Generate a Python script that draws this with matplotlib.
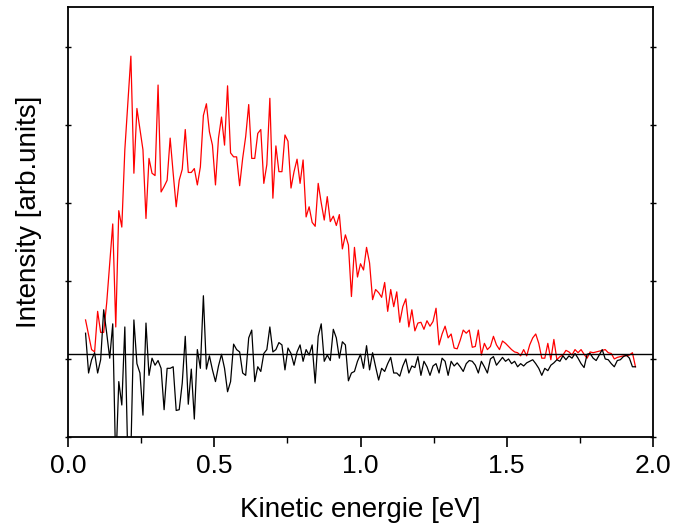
import matplotlib.pyplot as plt
from matplotlib.ticker import MultipleLocator
import numpy as np

# energie (eV) : premier et dernier point de mesure
x_first, x_last = 0.06, 1.94

# spectre mesuré (rouge), unités arbitraires
red_signal = [
    0.50, 0.31, 0.12, 0.09, 0.61, 0.34, 0.34, 0.72, 1.23, 1.73,
    0.41, 1.90, 1.69, 2.68, 3.28, 3.88, 2.38, 3.21, 2.94, 2.68,
    1.80, 2.57, 2.38, 2.35, 3.51, 2.14,
    2.21, 2.29, 2.83, 2.38, 1.95, 2.29, 2.43, 2.94, 2.39, 2.39,
    2.44, 2.23, 2.46, 3.12, 3.27, 2.91, 2.74, 2.23, 2.83, 3.10,
    2.74, 3.50, 2.64, 2.59, 2.59, 2.22,
    2.57, 2.85, 3.26, 2.57, 2.57, 2.89, 2.94, 2.25, 2.49, 3.34,
    2.06, 2.73, 2.40, 2.40, 2.87, 2.79, 2.19, 2.40, 2.56, 2.25,
    2.55, 1.82, 1.95, 1.75, 1.70, 2.25,
    2.00, 1.78, 2.08, 1.76, 1.83, 1.71, 1.85, 1.41, 1.59, 1.46,
    0.80, 1.43, 1.05, 1.22, 1.14, 1.43, 1.23, 0.76, 0.89, 0.85,
    0.79, 0.98, 0.61, 0.89, 0.67,
    0.86, 0.47, 0.67, 0.77, 0.41, 0.63, 0.36, 0.46, 0.47, 0.38,
    0.49, 0.42, 0.48, 0.65, 0.18, 0.32, 0.42, 0.27, 0.32, 0.14,
    0.13, 0.24, 0.37, 0.33, 0.37, 0.15,
    0.16, 0.37, 0.05, 0.20, 0.12, 0.16, 0.29, 0.18, 0.12, 0.23,
    0.20, 0.16, 0.12, 0.09, 0.08, 0.04, 0.12, 0.04, 0.18, 0.27,
    0.32, 0.20, 0.01, 0.01, 0.20, -0.01, 0.25, -0.01, 0.03,
    0.05, 0.11, 0.09, 0.05, 0.12, 0.08, 0.12, 0.06, 0.01, 0.09,
    0.08, 0.09, 0.10, 0.11, 0.12, 0.08, 0.07, 0.00, 0.02, 0.03,
    0.04, 0.04, 0.05, 0.08, -0.10,
]

# différence (noir), unités arbitraires
black_signal = [
    0.33, -0.18, -0.01, 0.08, -0.18, -0.01, 0.63, 0.33, 0.01, 0.45,
    -1.40, -0.29, -0.59, 0.41, -1.30, -1.20, 0.50, -0.06, -0.18, -0.72,
    0.46, -0.21, 0.01, -0.08, -0.02, -0.12,
    -0.65, -0.12, -0.12, -0.10, -0.66, -0.65, -0.31, 0.29, -0.58, -0.13,
    -0.77, 0.12, -0.12, 0.81, -0.13, 0.04, -0.14, -0.29, -0.09, 0.06,
    -0.12, -0.42, -0.29, 0.19, 0.12, 0.09,
    -0.18, -0.21, 0.27, 0.37, -0.29, -0.10, -0.16, 0.07, 0.12, 0.41,
    0.09, 0.12, 0.21, 0.18, -0.14, 0.14, 0.07, -0.08, 0.09, 0.18,
    -0.03, 0.12, 0.05, 0.18, -0.31, 0.29,
    0.45, -0.03, 0.05, -0.02, 0.38, 0.27, 0.01, 0.22, 0.18, -0.28,
    -0.18, -0.16, -0.03, 0.06, -0.12, 0.17, -0.14, 0.08, -0.10, -0.27,
    -0.12, -0.16, -0.06, 0.02, -0.18,
    -0.18, -0.22, -0.09, 0.00, -0.18, -0.09, -0.11, 0.03, -0.21, -0.03,
    -0.10, -0.21, -0.09, -0.06, -0.18, 0.01, -0.03, -0.21, -0.03, -0.09,
    -0.05, -0.10, -0.16, -0.06, -0.02, -0.03,
    -0.08, -0.18, -0.03, -0.10, -0.18, 0.00, 0.03, -0.08, -0.03, 0.02,
    -0.03, 0.00, -0.06, -0.03, -0.10, -0.06, -0.09, -0.05, -0.03, -0.01,
    -0.06, -0.12, -0.21, -0.12, -0.15, -0.08, -0.05, -0.01, -0.03,
    0.04, -0.01, 0.04, 0.01, 0.07, 0.01, -0.06, -0.11, 0.06, 0.07,
    0.01, -0.02, 0.05, 0.12, 0.00, -0.01, -0.06, -0.10, -0.02, -0.01,
    0.03, 0.05, 0.01, -0.10, -0.10,
]

baseline = 0.06

plt.rcParams['font.family'] = 'Liberation Sans'

energy = np.linspace(x_first, x_last, len(red_signal))

fig = plt.figure(figsize=(6.73, 5.23), dpi=100)
ax = fig.add_axes([68/673, 86/523, 585/673, 430/523])

ax.plot(energy, red_signal, color='red', lw=0.9)
ax.plot(energy, black_signal, color='black', lw=0.9)
ax.axhline(baseline, color='black', lw=1.0)

ax.set_xlim(0, 2.0)
ax.set_ylim(-1, 4.51)

# graduations
ax.xaxis.set_major_locator(MultipleLocator(0.5))
ax.xaxis.set_minor_locator(MultipleLocator(0.25))
ax.xaxis.set_major_formatter(plt.FormatStrFormatter('%.1f'))
ax.yaxis.set_major_locator(MultipleLocator(1))
ax.tick_params(axis='x', which='major', direction='out', length=7, width=1.2,
               labelsize=19, pad=5, top=False)
ax.tick_params(axis='x', which='minor', direction='out', length=4, width=1.0, top=False)
ax.tick_params(axis='y', which='major', direction='inout', length=4, width=1.0,
               left=True, right=True, labelleft=False)

for s in ax.spines.values():
    s.set_linewidth(1.3)

ax.set_xlabel('Kinetic energie [eV]', fontsize=20, labelpad=14)
ax.set_ylabel('Intensity [arb.units]', fontsize=20)
ax.yaxis.set_label_coords(-0.045, 0.523)

fig.savefig('out.png', dpi=100)
